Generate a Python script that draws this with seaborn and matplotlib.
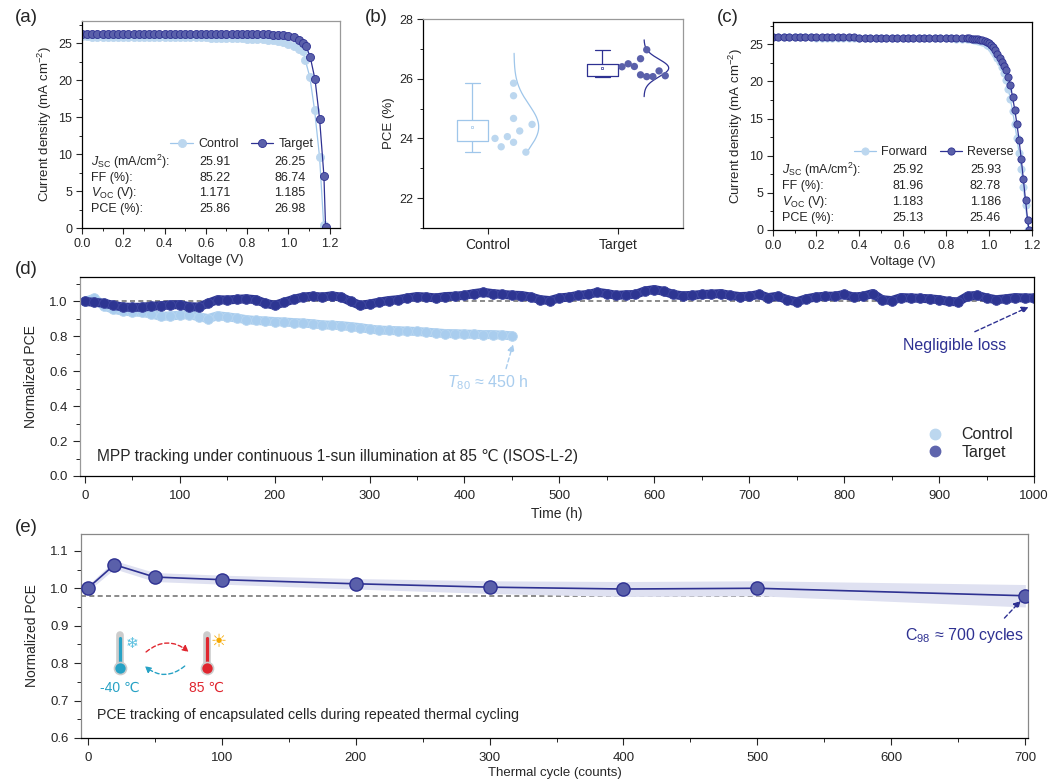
import numpy as np
import pandas as pd
import matplotlib
matplotlib.use('Agg')
import matplotlib.pyplot as plt
import seaborn as sns
from matplotlib.lines import Line2D
from matplotlib.ticker import MultipleLocator, FormatStrFormatter

# ---------------- data ----------------
# (a) J-V curves
a_v_ctrl = [0.000, 0.025, 0.050, 0.075, 0.100, 0.125, 0.150, 0.175, 0.200, 0.225,
            0.250, 0.275, 0.300, 0.325, 0.350, 0.375, 0.400, 0.425, 0.450, 0.475,
            0.500, 0.525, 0.550, 0.575, 0.600, 0.625, 0.650, 0.675, 0.700, 0.725,
            0.750, 0.775, 0.800, 0.825, 0.850, 0.875, 0.900, 0.925, 0.950, 0.975,
            1.000, 1.025, 1.050, 1.070, 1.082, 1.104, 1.127, 1.151, 1.171]
a_j_ctrl = [25.91, 25.91, 25.90, 25.90, 25.89, 25.89, 25.88, 25.88, 25.87, 25.87,
            25.86, 25.86, 25.85, 25.85, 25.84, 25.84, 25.83, 25.83, 25.82, 25.82,
            25.81, 25.80, 25.79, 25.78, 25.77, 25.76, 25.75, 25.74, 25.72, 25.70,
            25.68, 25.66, 25.63, 25.60, 25.56, 25.52, 25.47, 25.40, 25.30, 25.15,
            24.95, 24.65, 24.25, 23.97, 22.70, 20.40, 15.90, 9.60, 0.36]
a_v_tgt = [0.000, 0.025, 0.050, 0.075, 0.100, 0.125, 0.150, 0.175, 0.200, 0.225,
           0.250, 0.275, 0.300, 0.325, 0.350, 0.375, 0.400, 0.425, 0.450, 0.475,
           0.500, 0.525, 0.550, 0.575, 0.600, 0.625, 0.650, 0.675, 0.700, 0.725,
           0.750, 0.775, 0.800, 0.825, 0.850, 0.875, 0.900, 0.925, 0.950, 0.975,
           1.000, 1.025, 1.050, 1.070, 1.086, 1.106, 1.129, 1.151, 1.172, 1.180]
a_j_tgt = [26.25, 26.25, 26.25, 26.25, 26.25, 26.25, 26.25, 26.25, 26.25, 26.25,
           26.25, 26.25, 26.25, 26.25, 26.25, 26.25, 26.25, 26.25, 26.25, 26.25,
           26.25, 26.24, 26.24, 26.24, 26.24, 26.24, 26.24, 26.24, 26.24, 26.24,
           26.24, 26.24, 26.24, 26.22, 26.21, 26.20, 26.19, 26.17, 26.13, 26.06,
           25.96, 25.78, 25.45, 25.00, 24.60, 23.10, 20.10, 14.80, 7.10, 0.20]
a_rows = [r'$J_{\rm SC}$ (mA/cm$^2$):', 'FF (%):', r'$V_{\rm OC}$ (V):', 'PCE (%):']
a_ctrl_vals = ['25.91', '85.22', '1.171', '25.86']
a_tgt_vals = ['26.25', '86.74', '1.185', '26.98']

# (b) PCE statistics
b_groups = ['Control', 'Target']
b_ctrl = [24.00, 23.72, 24.06, 25.85, 25.43, 24.67, 23.87, 24.25, 23.54, 24.47]
b_tgt = [26.40, 26.50, 26.41, 26.67, 26.13, 26.97, 26.07, 26.07, 26.26, 26.10]
b_ctrl_slot = [0, 1, 2, 3, 3, 3, 3, 4, 5, 6]
b_tgt_slot = [0, 1, 2, 3, 3, 4, 4, 5, 6, 7]
b_curve_span = [(23.5, 26.85), (25.4, 27.3)]

# (c) forward / reverse scans
c_v_fwd = [0.000, 0.025, 0.050, 0.075, 0.100, 0.125, 0.150, 0.175, 0.200, 0.225,
           0.250, 0.275, 0.300, 0.325, 0.350, 0.375, 0.400, 0.425, 0.450, 0.475,
           0.500, 0.525, 0.550, 0.575, 0.600, 0.625, 0.650, 0.675, 0.700, 0.725,
           0.750, 0.775, 0.800, 0.825, 0.850, 0.875, 0.900,
           0.91, 0.92, 0.93, 0.94, 0.95, 0.96, 0.97, 0.98, 0.99, 1.00,
           1.01, 1.02, 1.03, 1.04, 1.05, 1.06, 1.07, 1.08, 1.09, 1.10,
           1.11, 1.12, 1.13, 1.14, 1.15, 1.16, 1.17, 1.183]
c_j_fwd = [25.92, 25.92, 25.92, 25.92, 25.92, 25.92, 25.92, 25.92, 25.91, 25.91,
           25.91, 25.91, 25.91, 25.91, 25.91, 25.91, 25.90, 25.90, 25.90, 25.90,
           25.90, 25.90, 25.88, 25.88, 25.88, 25.88, 25.88, 25.86, 25.85, 25.84,
           25.82, 25.81, 25.79, 25.78, 25.76, 25.74, 25.72,
           25.70, 25.67, 25.63, 25.58, 25.50, 25.40, 25.28, 25.13, 24.94, 24.72,
           24.44, 24.10, 23.68, 23.18, 22.60, 21.90, 21.20, 20.20, 19.00, 17.60,
           16.00, 14.30, 12.40, 10.40, 8.20, 5.80, 3.30, 0.00]
c_v_rev = [0.000, 0.025, 0.050, 0.075, 0.100, 0.125, 0.150, 0.175, 0.200, 0.225,
           0.250, 0.275, 0.300, 0.325, 0.350, 0.375, 0.400, 0.425, 0.450, 0.475,
           0.500, 0.525, 0.550, 0.575, 0.600, 0.625, 0.650, 0.675, 0.700, 0.725,
           0.750, 0.775, 0.800, 0.825, 0.850, 0.875, 0.900,
           0.91, 0.92, 0.93, 0.94, 0.95, 0.96, 0.97, 0.98, 0.99, 1.00,
           1.01, 1.02, 1.03, 1.04, 1.05, 1.06, 1.07, 1.08, 1.09, 1.10,
           1.11, 1.12, 1.13, 1.14, 1.15, 1.16, 1.17, 1.18, 1.186]
c_j_rev = [25.93, 25.93, 25.93, 25.93, 25.93, 25.93, 25.93, 25.93, 25.92, 25.92,
           25.92, 25.92, 25.92, 25.92, 25.92, 25.92, 25.91, 25.91, 25.91, 25.91,
           25.91, 25.91, 25.90, 25.90, 25.90, 25.90, 25.90, 25.89, 25.88, 25.87,
           25.86, 25.85, 25.84, 25.83, 25.82, 25.81, 25.80,
           25.78, 25.76, 25.73, 25.70, 25.66, 25.60, 25.52, 25.43, 25.33, 25.20,
           24.95, 24.60, 24.20, 23.70, 23.10, 22.60, 22.10, 21.50, 20.60, 19.50,
           17.90, 16.20, 14.30, 12.10, 9.60, 6.80, 4.00, 1.30, 0.00]
c_rows = [r'$J_{\rm SC}$ (mA/cm$^2$):', 'FF (%):', r'$V_{\rm OC}$ (V):', 'PCE (%):']
c_fwd_vals = ['25.92', '81.96', '1.183', '25.13']
c_rev_vals = ['25.93', '82.78', '1.186', '25.46']

# (d) MPP tracking, read every 10 h
d_hours_tgt = list(range(0, 1001, 10))
d_tgt = [1.000, 0.995, 0.990, 0.978, 0.968, 0.966, 0.967, 0.972, 0.976, 0.980,
         0.982, 0.970, 0.968, 0.990, 1.010, 1.008, 1.012, 1.015, 1.010, 0.990,
         0.978, 0.995, 1.012, 1.025, 1.030, 1.025, 1.032, 1.025, 1.000, 0.978,
         0.985, 0.996, 1.005, 1.010, 1.020, 1.028, 1.025, 1.020, 1.028, 1.030,
         1.035, 1.045, 1.052, 1.045, 1.040, 1.036, 1.034, 1.025, 1.010, 1.005,
         1.020, 1.025, 1.035, 1.040, 1.052, 1.045, 1.035, 1.038, 1.040, 1.060,
         1.068, 1.058, 1.040, 1.032, 1.035, 1.040, 1.042, 1.045, 1.035, 1.028,
         1.030, 1.040, 1.022, 1.030, 1.010, 0.998, 1.015, 1.025, 1.030, 1.030,
         1.040, 1.025, 1.030, 1.045, 1.010, 1.005, 1.022, 1.020, 1.018, 1.015,
         1.010, 1.000, 0.998, 1.030, 1.035, 1.020, 1.010, 1.015, 1.022, 1.020,
         1.020]
d_hours_ctrl = list(range(0, 451, 10))
d_ctrl = [1.000, 1.018, 0.975, 0.955, 0.945, 0.940, 0.937, 0.928, 0.915, 0.917,
          0.921, 0.925, 0.912, 0.902, 0.918, 0.912, 0.905, 0.896, 0.891, 0.888,
          0.885, 0.882, 0.879, 0.876, 0.872, 0.866, 0.864, 0.861, 0.856, 0.850,
          0.842, 0.836, 0.834, 0.832, 0.830, 0.828, 0.824, 0.820, 0.816, 0.815,
          0.813, 0.812, 0.810, 0.810, 0.807, 0.803]

# (e) thermal cycling
e_cycles = [0, 20, 50, 100, 200, 300, 400, 500, 700]
e_pce = [1.000, 1.063, 1.030, 1.023, 1.012, 1.003, 0.998, 1.000, 0.980]
e_err = [0.008, 0.011, 0.012, 0.012, 0.014, 0.017, 0.020, 0.020, 0.030]

# ---------------- style ----------------
sns.set_theme(style='ticks')
plt.rcParams['font.family'] = ['Liberation Sans', 'DejaVu Sans']
plt.rcParams.update({
    'mathtext.fontset': 'custom',
    'mathtext.rm': 'Liberation Sans',
    'mathtext.it': 'Liberation Sans:italic',
    'mathtext.bf': 'Liberation Sans:bold',
    'axes.linewidth': 0.9,
    'axes.edgecolor': 'black',
    'xtick.labelsize': 9, 'ytick.labelsize': 9,
    'xtick.major.size': 4.5, 'ytick.major.size': 4.5,
    'xtick.minor.size': 2.5, 'ytick.minor.size': 2.5,
    'xtick.major.width': 0.8, 'ytick.major.width': 0.8,
    'xtick.minor.width': 0.7, 'ytick.minor.width': 0.7,
    'xtick.direction': 'out', 'ytick.direction': 'out',
    'xtick.major.pad': 2.5, 'ytick.major.pad': 2.5,
    'axes.labelsize': 9.5,
    'axes.labelpad': 3,
})

LIGHT = '#bcd7ef'
LIGHT_LINE = '#9fc6ea'
NAVY = '#2e3192'
NAVY_FACE = '#5a60aa'
GRAY = '#777777'

W, H = 1051, 781
fig = plt.figure(figsize=(W / 100, H / 100), dpi=100)


def px_axes(left, top, right, bottom):
    return fig.add_axes([left / W, 1 - bottom / H, (right - left) / W, (bottom - top) / H])


def jv_panel(ax, v1, j1, lab1, v2, j2, lab2, rows, vals1, vals2, xmax, leg_y, row_y, col_x, ms):
    sns.lineplot(x=v1, y=j1, ax=ax, sort=False, estimator=None, color=LIGHT_LINE,
                 linewidth=0.9, marker='o', markersize=ms, markerfacecolor=LIGHT,
                 markeredgecolor=LIGHT, markeredgewidth=0.6, label=lab1)
    sns.lineplot(x=v2, y=j2, ax=ax, sort=False, estimator=None, color=NAVY,
                 linewidth=0.9, marker='o', markersize=ms, markerfacecolor=NAVY_FACE,
                 markeredgecolor=NAVY, markeredgewidth=0.6, label=lab2)
    ax.set_xlim(0, xmax)
    ax.set_ylim(0, 28)
    ax.xaxis.set_major_locator(MultipleLocator(0.2))
    ax.xaxis.set_minor_locator(MultipleLocator(0.1))
    ax.xaxis.set_major_formatter(FormatStrFormatter('%.1f'))
    ax.yaxis.set_major_locator(MultipleLocator(5))
    ax.yaxis.set_minor_locator(MultipleLocator(2.5))
    ax.set_xlabel('Voltage (V)')
    ax.set_ylabel(r'Current density (mA cm$^{-2}$)')
    ax.legend(ncol=2, frameon=False, loc='center', bbox_to_anchor=(0.62, leg_y),
              fontsize=9, handlelength=1.8, columnspacing=1.0, handletextpad=0.4,
              borderaxespad=0)
    for r, lab in enumerate(rows):
        ax.text(col_x[0], row_y[r], lab, transform=ax.transAxes, fontsize=9, va='center', ha='left')
        ax.text(col_x[1], row_y[r], vals1[r], transform=ax.transAxes, fontsize=9, va='center', ha='center')
        ax.text(col_x[2], row_y[r], vals2[r], transform=ax.transAxes, fontsize=9, va='center', ha='center')


def long_axis_style(ax):
    ax.tick_params(which='major', length=5, labelsize=9.5)
    ax.tick_params(which='minor', length=2.8)
    ax.tick_params(axis='x', which='major', pad=5)
    ax.tick_params(axis='y', which='major', pad=4)


# ---------------- (a) ----------------
ax_a = px_axes(82, 21, 340, 228)
jv_panel(ax_a, a_v_ctrl, a_j_ctrl, 'Control', a_v_tgt, a_j_tgt, 'Target',
         a_rows, a_ctrl_vals, a_tgt_vals, 1.25, 0.405,
         [0.317, 0.241, 0.168, 0.090], [0.035, 0.515, 0.805], 5.8)
for s in ['top', 'right']:
    ax_a.spines[s].set_color('#999999')

# ---------------- (b) ----------------
ax_b = px_axes(423, 19, 683, 228)
b_df = pd.DataFrame({'group': ['Control'] * len(b_ctrl) + ['Target'] * len(b_tgt),
                     'pce': b_ctrl + b_tgt})
b_face = [LIGHT, NAVY_FACE]
b_line = [LIGHT_LINE, NAVY]
b_slots = [b_ctrl_slot, b_tgt_slot]
b_start = [0.054, 0.031]
for i, grp in enumerate(b_groups):
    sub = b_df[b_df.group == grp].assign(box_x=i - 0.12)
    sns.boxplot(data=sub, x='box_x', y='pce', native_scale=True, orient='x', width=0.24,
                fill=False, color=b_line[i], linewidth=0.9, whis=(0, 100), showfliers=False,
                showmeans=True, medianprops={'linewidth': 0},
                meanprops={'marker': 's', 'markersize': 1.6, 'markerfacecolor': 'white',
                           'markeredgecolor': b_line[i], 'markeredgewidth': 0.5},
                ax=ax_b)
    xs = [i + b_start[i] + 0.0475 * k for k in b_slots[i]]
    sns.scatterplot(x=xs, y=sub['pce'].values, ax=ax_b, color=b_face[i], s=28,
                    edgecolor='none', zorder=3)
    mu, sd = sub['pce'].mean(), sub['pce'].std()
    yy = np.linspace(b_curve_span[i][0], b_curve_span[i][1], 200)
    pdf = np.exp(-0.5 * ((yy - mu) / sd) ** 2)
    ax_b.plot(i + 0.2 + 0.19 * pdf / pdf.max(), yy, color=b_line[i], lw=0.9)
ax_b.set_xlim(-0.5, 1.5)
ax_b.set_ylim(21, 28)
ax_b.set_xticks([0, 1])
ax_b.set_xticklabels(b_groups, fontsize=10)
ax_b.yaxis.set_major_locator(MultipleLocator(2))
ax_b.yaxis.set_minor_locator(MultipleLocator(1))
ax_b.set_xlabel('')
ax_b.set_ylabel('PCE (%)')
for s in ['top', 'right']:
    ax_b.spines[s].set_color('#999999')

# ---------------- (c) ----------------
ax_c = px_axes(773, 22, 1032, 230)
jv_panel(ax_c, c_v_fwd, c_j_fwd, 'Forward', c_v_rev, c_j_rev, 'Reverse',
         c_rows, c_fwd_vals, c_rev_vals, 1.2, 0.375,
         [0.288, 0.210, 0.137, 0.058], [0.034, 0.52, 0.82], 5.2)

# ---------------- (d) ----------------
ax_d = px_axes(80, 277, 1034, 476)
ax_d.axhline(1.0, color=GRAY, lw=1.2, ls=(0, (3, 2)), zorder=1)
sns.lineplot(x=d_hours_ctrl, y=d_ctrl, ax=ax_d, sort=False, estimator=None,
             color='#a9cdee', linewidth=6.5, marker='o', markersize=7,
             markerfacecolor='#a9cdee', markeredgecolor='#b8d6f1', markeredgewidth=0.6)
sns.lineplot(x=d_hours_tgt, y=d_tgt, ax=ax_d, sort=False, estimator=None,
             color='#2d3592', linewidth=6.5, marker='o', markersize=7,
             markerfacecolor='#2d3592', markeredgecolor='#3f47a0', markeredgewidth=0.6)
ax_d.set_xlim(-5, 1000)
ax_d.set_ylim(0, 1.14)
ax_d.set_yticks([0.0, 0.2, 0.4, 0.6, 0.8, 1.0])
ax_d.yaxis.set_minor_locator(MultipleLocator(0.1))
ax_d.yaxis.set_major_formatter(FormatStrFormatter('%.1f'))
ax_d.xaxis.set_major_locator(MultipleLocator(100))
ax_d.xaxis.set_minor_locator(MultipleLocator(50))
long_axis_style(ax_d)
ax_d.set_xlabel('Time (h)', fontsize=10, labelpad=4)
ax_d.set_ylabel('Normalized PCE', fontsize=10, labelpad=8)
ax_d.spines['left'].set_color('#999999')
d_handles = [Line2D([], [], ls='none', marker='o', ms=7.5, mfc=LIGHT, mec=LIGHT),
             Line2D([], [], ls='none', marker='o', ms=7.5, mfc='#5f65ad', mec='#5f65ad')]
ax_d.legend(d_handles, ['Control', 'Target'], frameon=False, loc='lower right',
            bbox_to_anchor=(0.985, 0.05), fontsize=11.5, handletextpad=0.7,
            labelspacing=0.15, borderaxespad=0)
ax_d.text(13, 0.11, 'MPP tracking under continuous 1-sun illumination at 85 \u2103 (ISOS-L-2)',
          fontsize=11.2, va='center', ha='left')
ax_d.text(424, 0.537, r'$T_{80}$' + ' \u2248 450 h', color='#a9cdee', fontsize=11.5,
          ha='center', va='center')
ax_d.annotate('', xy=(452, 0.77), xytext=(443, 0.60),
              arrowprops=dict(arrowstyle='-|>', color='#a9cdee', lw=1,
                              ls=(0, (3, 2)), mutation_scale=10))
ax_d.text(916, 0.75, 'Negligible loss', color=NAVY, fontsize=11.5, ha='center', va='center')
ax_d.annotate('', xy=(997, 0.975), xytext=(935, 0.82),
              arrowprops=dict(arrowstyle='-|>', color=NAVY, lw=1,
                              ls=(0, (3, 2)), mutation_scale=10))

# ---------------- (e) ----------------
ax_e = px_axes(81, 534, 1028, 738)
ax_e.axhline(0.98, color=GRAY, lw=1.2, ls=(0, (3, 2)), zorder=1)
e_lo = [p - e for p, e in zip(e_pce, e_err)]
e_hi = [p + e for p, e in zip(e_pce, e_err)]
ax_e.fill_between(e_cycles, e_lo, e_hi, color='#dfe1f1', lw=0, zorder=1)
sns.lineplot(x=e_cycles, y=e_pce, ax=ax_e, sort=False, estimator=None, color=NAVY,
             linewidth=1.2, marker='o', markersize=9.5, markerfacecolor=NAVY_FACE,
             markeredgecolor=NAVY, markeredgewidth=1.0, zorder=3)
ax_e.set_xlim(-5, 702)
ax_e.set_ylim(0.6, 1.145)
ax_e.yaxis.set_major_locator(MultipleLocator(0.1))
ax_e.yaxis.set_minor_locator(MultipleLocator(0.05))
ax_e.yaxis.set_major_formatter(FormatStrFormatter('%.1f'))
ax_e.xaxis.set_major_locator(MultipleLocator(100))
ax_e.xaxis.set_minor_locator(MultipleLocator(50))
long_axis_style(ax_e)
ax_e.set_xlabel('Thermal cycle (counts)', fontsize=9.5, labelpad=2)
ax_e.set_ylabel('Normalized PCE', fontsize=10, labelpad=8)
for s in ['top', 'right', 'left']:
    ax_e.spines[s].set_color('#888888')
ax_e.text(7, 0.662, 'PCE tracking of encapsulated cells during repeated thermal cycling',
          fontsize=10.2, va='center', ha='left')
ax_e.text(655, 0.874, r'C$_{98}$' + ' \u2248 700 cycles', color=NAVY, fontsize=11.5,
          ha='center', va='center')
ax_e.annotate('', xy=(698, 0.972), xytext=(683, 0.915),
              arrowprops=dict(arrowstyle='-|>', color=NAVY, lw=1,
                              ls=(0, (3, 2)), mutation_scale=10))

# thermal-cycle icon
TEAL, RED = '#27a2c5', '#e0262f'
for x0, col in [(24, TEAL), (88.7, RED)]:
    ax_e.plot([x0, x0], [0.79, 0.875], color='#cccccc', lw=5.5, solid_capstyle='round', zorder=4)
    ax_e.plot([x0, x0], [0.79, 0.868], color=col, lw=2.3, solid_capstyle='round', zorder=5)
    ax_e.scatter([x0], [0.788], s=75, color=col, edgecolor='#cccccc', linewidth=1.2, zorder=6)
ax_e.text(33, 0.853, '\u2744', color='#5bc0e0', fontsize=11, ha='center', va='center',
          family=['DejaVu Sans'])
ax_e.text(98, 0.856, '\u2600', color='#f5a800', fontsize=13, ha='center', va='center',
          family=['DejaVu Sans'])
ax_e.text(24, 0.733, '-40 \u2103', color=TEAL, fontsize=10, ha='center', va='center')
ax_e.text(89, 0.733, '85 \u2103', color=RED, fontsize=10, ha='center', va='center')
ax_e.annotate('', xy=(77, 0.825), xytext=(42, 0.825),
              arrowprops=dict(arrowstyle='-|>', color=RED, lw=1, ls=(0, (3, 2)),
                              connectionstyle='arc3,rad=-0.45', mutation_scale=9))
ax_e.annotate('', xy=(41, 0.797), xytext=(74, 0.797),
              arrowprops=dict(arrowstyle='-|>', color=TEAL, lw=1, ls=(0, (3, 2)),
                              connectionstyle='arc3,rad=-0.45', mutation_scale=9))

# panel letters
for lab, x, y in [('(a)', 26, 17), ('(b)', 376, 17), ('(c)', 728, 17),
                  ('(d)', 26, 270), ('(e)', 26, 527)]:
    fig.text(x / W, 1 - y / H, lab, fontsize=13.5, ha='center', va='center')

fig.savefig('out.png', dpi=100)
